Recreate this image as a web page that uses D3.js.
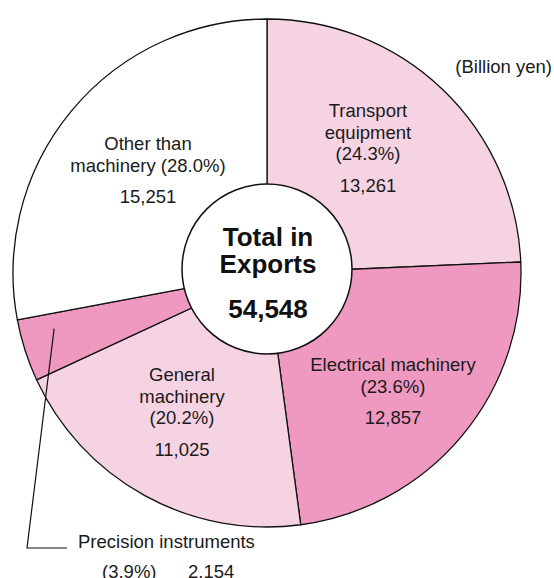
<!DOCTYPE html>
<html>
<head>
<meta charset="utf-8">
<script src="https://cdn.jsdelivr.net/npm/d3@7"></script>
<style>
  body { margin: 0; background: #fff; }
  svg { display: block; font-family: "Liberation Sans", Arial, sans-serif; }
</style>
</head>
<body>
<div id="chart"></div>
<script>
// data (billion yen)
var categories = ["Transport\nequipment", "Electrical machinery", "General\nmachinery", "Precision instruments", "Other than\nmachinery"];
var values = [13261, 12857, 11025, 2154, 15251];
var percents = [24.3, 23.6, 20.2, 3.9, 28.0];
var totalLabel = 54548;

var colors = ["#f6d3e3", "#ef99c1", "#f6d3e3", "#ef99c1", "#ffffff"];

var width = 554, height = 578;
var cx = 267, cy = 273, outerR = 254;
var innerCx = 267, innerCy = 269, innerR = 85;
var labelSize = "18.5px";

var svg = d3.select("#chart").append("svg")
  .attr("width", width)
  .attr("height", height);

var fmt = d3.format(",d");
var pfmt = d3.format(".1f");

var pie = d3.pie().sort(null).value(function (d) { return d; });
var arcs = pie(values);

var arc = d3.arc().innerRadius(0).outerRadius(outerR);

var g = svg.append("g").attr("transform", "translate(" + cx + "," + cy + ")");

g.selectAll("path")
  .data(arcs)
  .enter()
  .append("path")
  .attr("d", arc)
  .attr("fill", function (d, i) { return colors[i]; })
  .attr("stroke", "#111")
  .attr("stroke-width", 1.3)
  .attr("stroke-linejoin", "round");

// centre circle
svg.append("circle")
  .attr("cx", innerCx)
  .attr("cy", innerCy)
  .attr("r", innerR)
  .attr("fill", "#fff")
  .attr("stroke", "#111")
  .attr("stroke-width", 1.5);

var center = svg.append("g").attr("text-anchor", "middle")
  .style("font-weight", "bold")
  .style("font-size", "26px")
  .attr("fill", "#111");
center.append("text").attr("x", 268).attr("y", 246).text("Total in");
center.append("text").attr("x", 268).attr("y", 273).text("Exports");
center.append("text").attr("x", 268).attr("y", 318).text(fmt(totalLabel));

// slice labels: anchor x and first baseline for each slice
var labelPos = [
  { x: 368, y: 117, pctOwnLine: true },
  { x: 393, y: 371, pctOwnLine: true },
  { x: 182, y: 381, pctOwnLine: true },
  null,
  { x: 148, y: 150, pctOwnLine: false }
];
var lineH = 21.5, valueGap = 31.5;

var labels = svg.append("g")
  .attr("text-anchor", "middle")
  .style("font-size", labelSize)
  .attr("fill", "#1a1a1a");

arcs.forEach(function (a, i) {
  var p = labelPos[i];
  if (!p) return;
  var lines = categories[i].split("\n");
  var pct = "(" + pfmt(percents[i]) + "%)";
  if (p.pctOwnLine) lines.push(pct);
  else lines[lines.length - 1] += " " + pct;
  var y = p.y;
  lines.forEach(function (t, k) {
    labels.append("text").attr("x", p.x).attr("y", y + k * lineH).text(t);
  });
  labels.append("text")
    .attr("x", p.x)
    .attr("y", y + (lines.length - 1) * lineH + valueGap)
    .text(fmt(values[i]));
});

// leader for the small precision instruments slice
var pi = 3;
var la = arcs[pi].startAngle + 0.72 * (arcs[pi].endAngle - arcs[pi].startAngle);
var startPt = [cx + Math.sin(la) * 220, cy - Math.cos(la) * 220];
svg.append("polyline")
  .attr("points", [startPt, [27, 548], [67, 548]].map(function (p) { return p.join(","); }).join(" "))
  .attr("fill", "none")
  .attr("stroke", "#111")
  .attr("stroke-width", 1.2);

svg.append("text")
  .attr("x", 78)
  .attr("y", 548)
  .style("font-size", labelSize)
  .attr("fill", "#1a1a1a")
  .text("Precision instruments");

svg.append("text")
  .attr("x", 102)
  .attr("y", 578)
  .style("font-size", labelSize)
  .attr("fill", "#1a1a1a")
  .text("(" + pfmt(percents[pi]) + "%)");

svg.append("text")
  .attr("x", 188)
  .attr("y", 578)
  .style("font-size", labelSize)
  .attr("fill", "#1a1a1a")
  .text(fmt(values[pi]));

// unit note
svg.append("text")
  .attr("x", 552)
  .attr("y", 73)
  .attr("text-anchor", "end")
  .style("font-size", labelSize)
  .attr("fill", "#1a1a1a")
  .text("(Billion yen)");
</script>
</body>
</html>
